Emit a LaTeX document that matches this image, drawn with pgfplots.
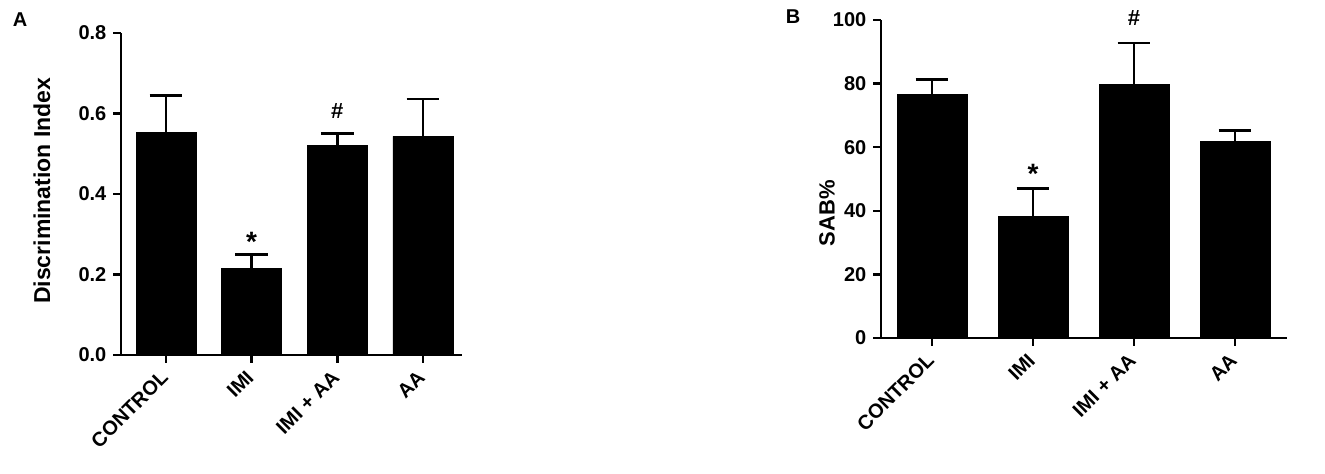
\documentclass[border=0pt]{standalone}
\usepackage{fontspec}
\setmainfont{Liberation Sans}
\usepackage{pgfplots}
\pgfplotsset{compat=1.18}

\pgfplotsset{
  prism/.style={
    scale only axis, clip=false,
    axis x line=bottom, axis y line=left,
    axis line style={line width=1.2pt, -},
    every tick/.style={line width=1.2pt, black},
    tick align=outside, major tick length=3.8pt,
    xtick pos=bottom, ytick pos=left,
    /pgf/number format/assume math mode=true,
    tick label style={font=\bfseries\fontsize{10}{12}\selectfont},
    xtick={0,1,2,3},
    xticklabels={CONTROL, IMI, IMI + AA, AA},
    xticklabel style={rotate=45, anchor=east, inner sep=1pt},
    xticklabel shift=5pt,
    ybar, bar shift=0pt,
    ymin=0,
  },
  bars/.style={
    fill=black, draw=black,
    error bars/.cd,
      y dir=plus, y explicit,
      error bar style={line width=1.3pt, black},
      error mark options={rotate=90, mark size=8.2pt, line width=1.3pt, black},
  },
}

\begin{document}
\begin{tikzpicture}
\path[use as bounding box] (0,0) rectangle (662.5pt,237pt);

\node[font=\bfseries\fontsize{10}{12}\selectfont] at (10pt,227pt) {A};
\node[font=\bfseries\fontsize{10}{12}\selectfont] at (396.5pt,228.5pt) {B};

% panel A: novel object recognition
\begin{axis}[prism,
  at={(60.5pt,59.5pt)}, anchor=south west,
  width=170.5pt, height=161pt,
  xmin=-0.526, xmax=3.456,
  ymax=0.8, ytick={0,0.2,0.4,0.6,0.8},
  yticklabel style={/pgf/number format/.cd, fixed, fixed zerofill, precision=1},
  bar width=30pt,
  ylabel={Discrimination Index},
  every axis y label/.style={at={(axis description cs:-0.232,0.51)}, rotate=90, anchor=center,
    font=\bfseries\fontsize{11.5}{13}\selectfont},
]
\addplot[bars] coordinates {
  (0,0.554) +- (0,0.090)
  (1,0.215) +- (0,0.034)
  (2,0.521) +- (0,0.030)
  (3,0.543) +- (0,0.093)
};
\node[font=\bfseries\fontsize{14}{14}\selectfont] at (axis cs:1,0.282) {*};
\node[font=\bfseries\fontsize{11}{13}\selectfont] at (axis cs:2,0.605) {\#};
\end{axis}

% panel B: spontaneous alternation
\begin{axis}[prism,
  at={(440.5pt,68pt)}, anchor=south west,
  width=203pt, height=159pt,
  xmin=-0.505, xmax=3.515,
  ymax=100, ytick={0,20,40,60,80,100},
  bar width=35pt,
  ylabel={SAB\%},
  every axis y label/.style={at={(axis description cs:-0.133,0.393)}, rotate=90, anchor=center,
    font=\bfseries\fontsize{11}{13}\selectfont},
]
\addplot[bars] coordinates {
  (0,76.6) +- (0,4.6)
  (1,38.2) +- (0,8.9)
  (2,79.6) +- (0,13.1)
  (3,61.8) +- (0,3.4)
};
\node[font=\bfseries\fontsize{14}{14}\selectfont] at (axis cs:1,51.5) {*};
\node[font=\bfseries\fontsize{11}{13}\selectfont] at (axis cs:2,100.5) {\#};
\end{axis}
\end{tikzpicture}
\end{document}
